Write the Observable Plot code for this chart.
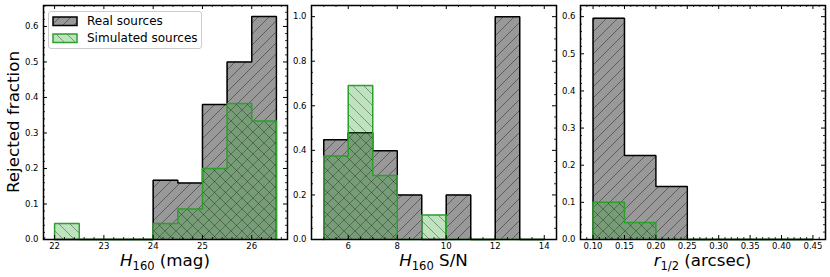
<!DOCTYPE html>
<html><head><meta charset="utf-8">
<script src="https://cdn.jsdelivr.net/npm/d3@7"></script>
<script src="https://cdn.jsdelivr.net/npm/@observablehq/plot@0.6"></script>
<style>
body{margin:0;background:#fff;}
#chart{position:relative;width:830px;height:277px;overflow:hidden;background:#fff;}
#chart svg.p{position:absolute;top:0;}
</style></head><body>
<svg width="0" height="0" style="position:absolute">
<defs>
<pattern id="hReal" patternUnits="userSpaceOnUse" width="11" height="11">
<rect width="11" height="11" fill="#999999"/>
<path d="M0,11L11,0M-2,2L2,-2M9,13L13,9" stroke="#444444" stroke-width="0.7"/>
</pattern>
<pattern id="hSim" patternUnits="userSpaceOnUse" width="11" height="11">
<rect width="11" height="11" fill="rgba(44,160,44,0.3)"/>
<path d="M0,0L11,11M-2,9L2,13M9,-2L13,2" stroke="rgba(0,0,0,0.5)" stroke-width="0.7"/>
</pattern>
</defs></svg>
<div id="chart"></div>
<script>
// ---- data ----
const magEdges = [22, 22.5, 23, 23.5, 24, 24.5, 25, 25.5, 26, 26.5];
const magReal  = [0, 0, 0, 0, 0.167, 0.159, 0.380, 0.500, 0.628];
const magSim   = [0.045, 0, 0, 0, 0.045, 0.086, 0.200, 0.383, 0.334];

const snEdges = [5, 6, 7, 8, 9, 10, 11, 12, 13, 14];
const snReal  = [0.448, 0.479, 0.398, 0.200, 0, 0.200, 0, 1.000, 0];
const snSim   = [0.375, 0.691, 0.287, 0, 0.110, 0, 0, 0, 0];

const rEdges = [0.10, 0.15, 0.20, 0.25, 0.30, 0.35, 0.40, 0.45];
const rReal  = [0.596, 0.226, 0.143, 0, 0, 0, 0];
const rSim   = [0.100, 0.046, 0, 0, 0, 0, 0];

const magXTicks = [22, 23, 24, 25, 26];
const snXTicks  = [6, 8, 10, 12, 14];
const rXTicks   = [0.10, 0.15, 0.20, 0.25, 0.30, 0.35, 0.40, 0.45];
const yTicksA   = [0, 0.1, 0.2, 0.3, 0.4, 0.5, 0.6];
const yTicksB   = [0, 0.2, 0.4, 0.6, 0.8, 1.0];

const realLabel = "Real sources";
const simLabel = "Simulated sources";
const yLabel = "Rejected fraction";

// ---- helpers ----
function stepPts(edges, vals) {
  const n = vals.length;
  const pts = [{x: edges[0], y: 0}];
  for (let i = 0; i < n; i++) pts.push({x: edges[i], y: vals[i]});
  pts.push({x: edges[n], y: vals[n - 1]});
  pts.push({x: edges[n], y: 0});
  return pts;
}
function minor(dom, step, majors) {
  const out = [];
  const k0 = Math.ceil(dom[0] / step - 1e-9), k1 = Math.floor(dom[1] / step + 1e-9);
  for (let k = k0; k <= k1; k++) {
    const v = +(k * step).toFixed(6);
    if (!majors.some(m => Math.abs(m - v) < step / 10)) out.push(v);
  }
  return out;
}

function panel(cfg) {
  const {left, width, ml, mr, mt, mb, xdom, ydom, edges, real, sim, xt, xstep, yt, ystep, xfmt, yfmt} = cfg;
  const H = 277;
  const fw = width - ml - mr, fh = H - mt - mb;
  const xMaj = xt.filter(v => v >= xdom[0] && v <= xdom[1]);
  const xMin = minor(xdom, xstep, xMaj);
  const yMaj = yt.filter(v => v >= ydom[0] && v <= ydom[1]);
  const yMin = minor(ydom, ystep, yMaj);
  const rp = stepPts(edges, real), sp = stepPts(edges, sim);
  const L = 4, l = 2;
  const svg = Plot.plot({
    width, height: H, marginLeft: ml, marginRight: mr, marginTop: mt, marginBottom: mb,
    style: {fontFamily: "DejaVu Sans", fontSize: "8.5px", color: "black", background: "transparent", overflow: "visible"},
    x: {domain: xdom},
    y: {domain: ydom},
    marks: [
      Plot.areaY(rp, {x: "x", y: "y", curve: "step-after", fill: "url(#hReal)"}),
      Plot.lineY(rp, {x: "x", y: "y", curve: "step-after", stroke: "black", strokeWidth: 1.5, strokeLinejoin: "miter"}),
      Plot.areaY(sp, {x: "x", y: "y", curve: "step-after", fill: "url(#hSim)"}),
      Plot.lineY(sp, {x: "x", y: "y", curve: "step-after", stroke: "#2ca02c", strokeWidth: 1.5, strokeLinejoin: "miter"}),
      Plot.tickX(xMaj, {x: d => d, insetTop: fh - L, stroke: "black", strokeWidth: 1}),
      Plot.tickX(xMaj, {x: d => d, insetBottom: fh - L, stroke: "black", strokeWidth: 1}),
      Plot.tickX(xMin, {x: d => d, insetTop: fh - l, stroke: "black", strokeWidth: 0.8}),
      Plot.tickX(xMin, {x: d => d, insetBottom: fh - l, stroke: "black", strokeWidth: 0.8}),
      Plot.tickY(yMaj, {y: d => d, insetRight: fw - L, stroke: "black", strokeWidth: 1}),
      Plot.tickY(yMaj, {y: d => d, insetLeft: fw - L, stroke: "black", strokeWidth: 1}),
      Plot.tickY(yMin, {y: d => d, insetRight: fw - l, stroke: "black", strokeWidth: 0.8}),
      Plot.tickY(yMin, {y: d => d, insetLeft: fw - l, stroke: "black", strokeWidth: 0.8}),
      Plot.axisX(xMaj, {tickSize: 0, tickPadding: 3, tickFormat: xfmt, label: null, fontSize: 8.5}),
      Plot.axisY(yMaj, {tickSize: 0, tickPadding: 5, tickFormat: yfmt, label: null, fontSize: 8.5}),
      Plot.frame({stroke: "black", strokeWidth: 1.5})
    ]
  });
  svg.classList.add("p");
  svg.style.left = left + "px";
  document.getElementById("chart").appendChild(svg);
  return {svg, cx: ml + fw / 2, cy: mt + fh / 2};
}

function xLabel(p, parts) {
  const t = d3.select(p.svg).append("text")
    .attr("x", p.cx).attr("y", 266)
    .attr("text-anchor", "middle")
    .attr("font-family", "DejaVu Sans").attr("font-size", 16.7).attr("fill", "black");
  parts.forEach(([s, kind]) => {
    const ts = t.append("tspan").text(s);
    if (kind === "it") ts.attr("font-style", "italic");
    if (kind === "sub") ts.attr("font-size", 11.5).attr("dy", 4);
    if (kind === "after") ts.attr("dy", -4);
  });
}

const p1 = panel({left: 0, width: 289, ml: 43, mr: 2, mt: 5, mb: 38,
  xdom: [21.775, 26.725], ydom: [0, 0.659], edges: magEdges, real: magReal, sim: magSim,
  xt: magXTicks, xstep: 0.2, yt: yTicksA, ystep: 0.02, xfmt: d3.format("d"), yfmt: d3.format(".1f")});
const p2 = panel({left: 289, width: 270, ml: 22, mr: 3, mt: 5, mb: 38,
  xdom: [4.5, 14.5], ydom: [0, 1.05], edges: snEdges, real: snReal, sim: snSim,
  xt: snXTicks, xstep: 0.5, yt: yTicksB, ystep: 0.05, xfmt: d3.format("d"), yfmt: d3.format(".1f")});
const p3 = panel({left: 559, width: 271, ml: 21, mr: 5, mt: 5, mb: 38,
  xdom: [0.08, 0.47], ydom: [0, 0.63], edges: rEdges, real: rReal, sim: rSim,
  xt: rXTicks, xstep: 0.01, yt: yTicksA, ystep: 0.02, xfmt: d3.format(".2f"), yfmt: d3.format(".1f")});

xLabel(p1, [["H", "it"], ["160", "sub"], ["\u00a0(mag)", "after"]]);
xLabel(p2, [["H", "it"], ["160", "sub"], ["\u00a0S/N", "after"]]);
xLabel(p3, [["r", "it"], ["1/2", "sub"], ["\u00a0(arcsec)", "after"]]);

d3.select(p1.svg).append("text")
  .attr("transform", `translate(12.5,${p1.cy}) rotate(-90)`)
  .attr("text-anchor", "middle").attr("dominant-baseline", "central")
  .attr("font-family", "DejaVu Sans").attr("font-size", 16.7).attr("fill", "black")
  .text(yLabel);

// legend
const lg = d3.select(p1.svg).append("g").attr("text-anchor", "start");
lg.append("rect").attr("x", 48.5).attr("y", 11.5).attr("width", 153).attr("height", 37).attr("rx", 2.5)
  .attr("fill", "rgba(255,255,255,0.8)").attr("stroke", "#cccccc").attr("stroke-width", 1);
[[realLabel, "url(#hReal)", "black", 17], [simLabel, "url(#hSim)", "#2ca02c", 34]].forEach(([lab, fill, stroke, y]) => {
  lg.append("rect").attr("x", 53).attr("y", y).attr("width", 24).attr("height", 8.5)
    .attr("fill", fill).attr("stroke", stroke).attr("stroke-width", 1.5);
  lg.append("text").attr("x", 87).attr("y", y + 4.3).attr("text-anchor", "start").attr("dominant-baseline", "central")
    .attr("font-family", "DejaVu Sans").attr("font-size", 12).attr("fill", "black").text(lab);
});
</script>
</body></html>
